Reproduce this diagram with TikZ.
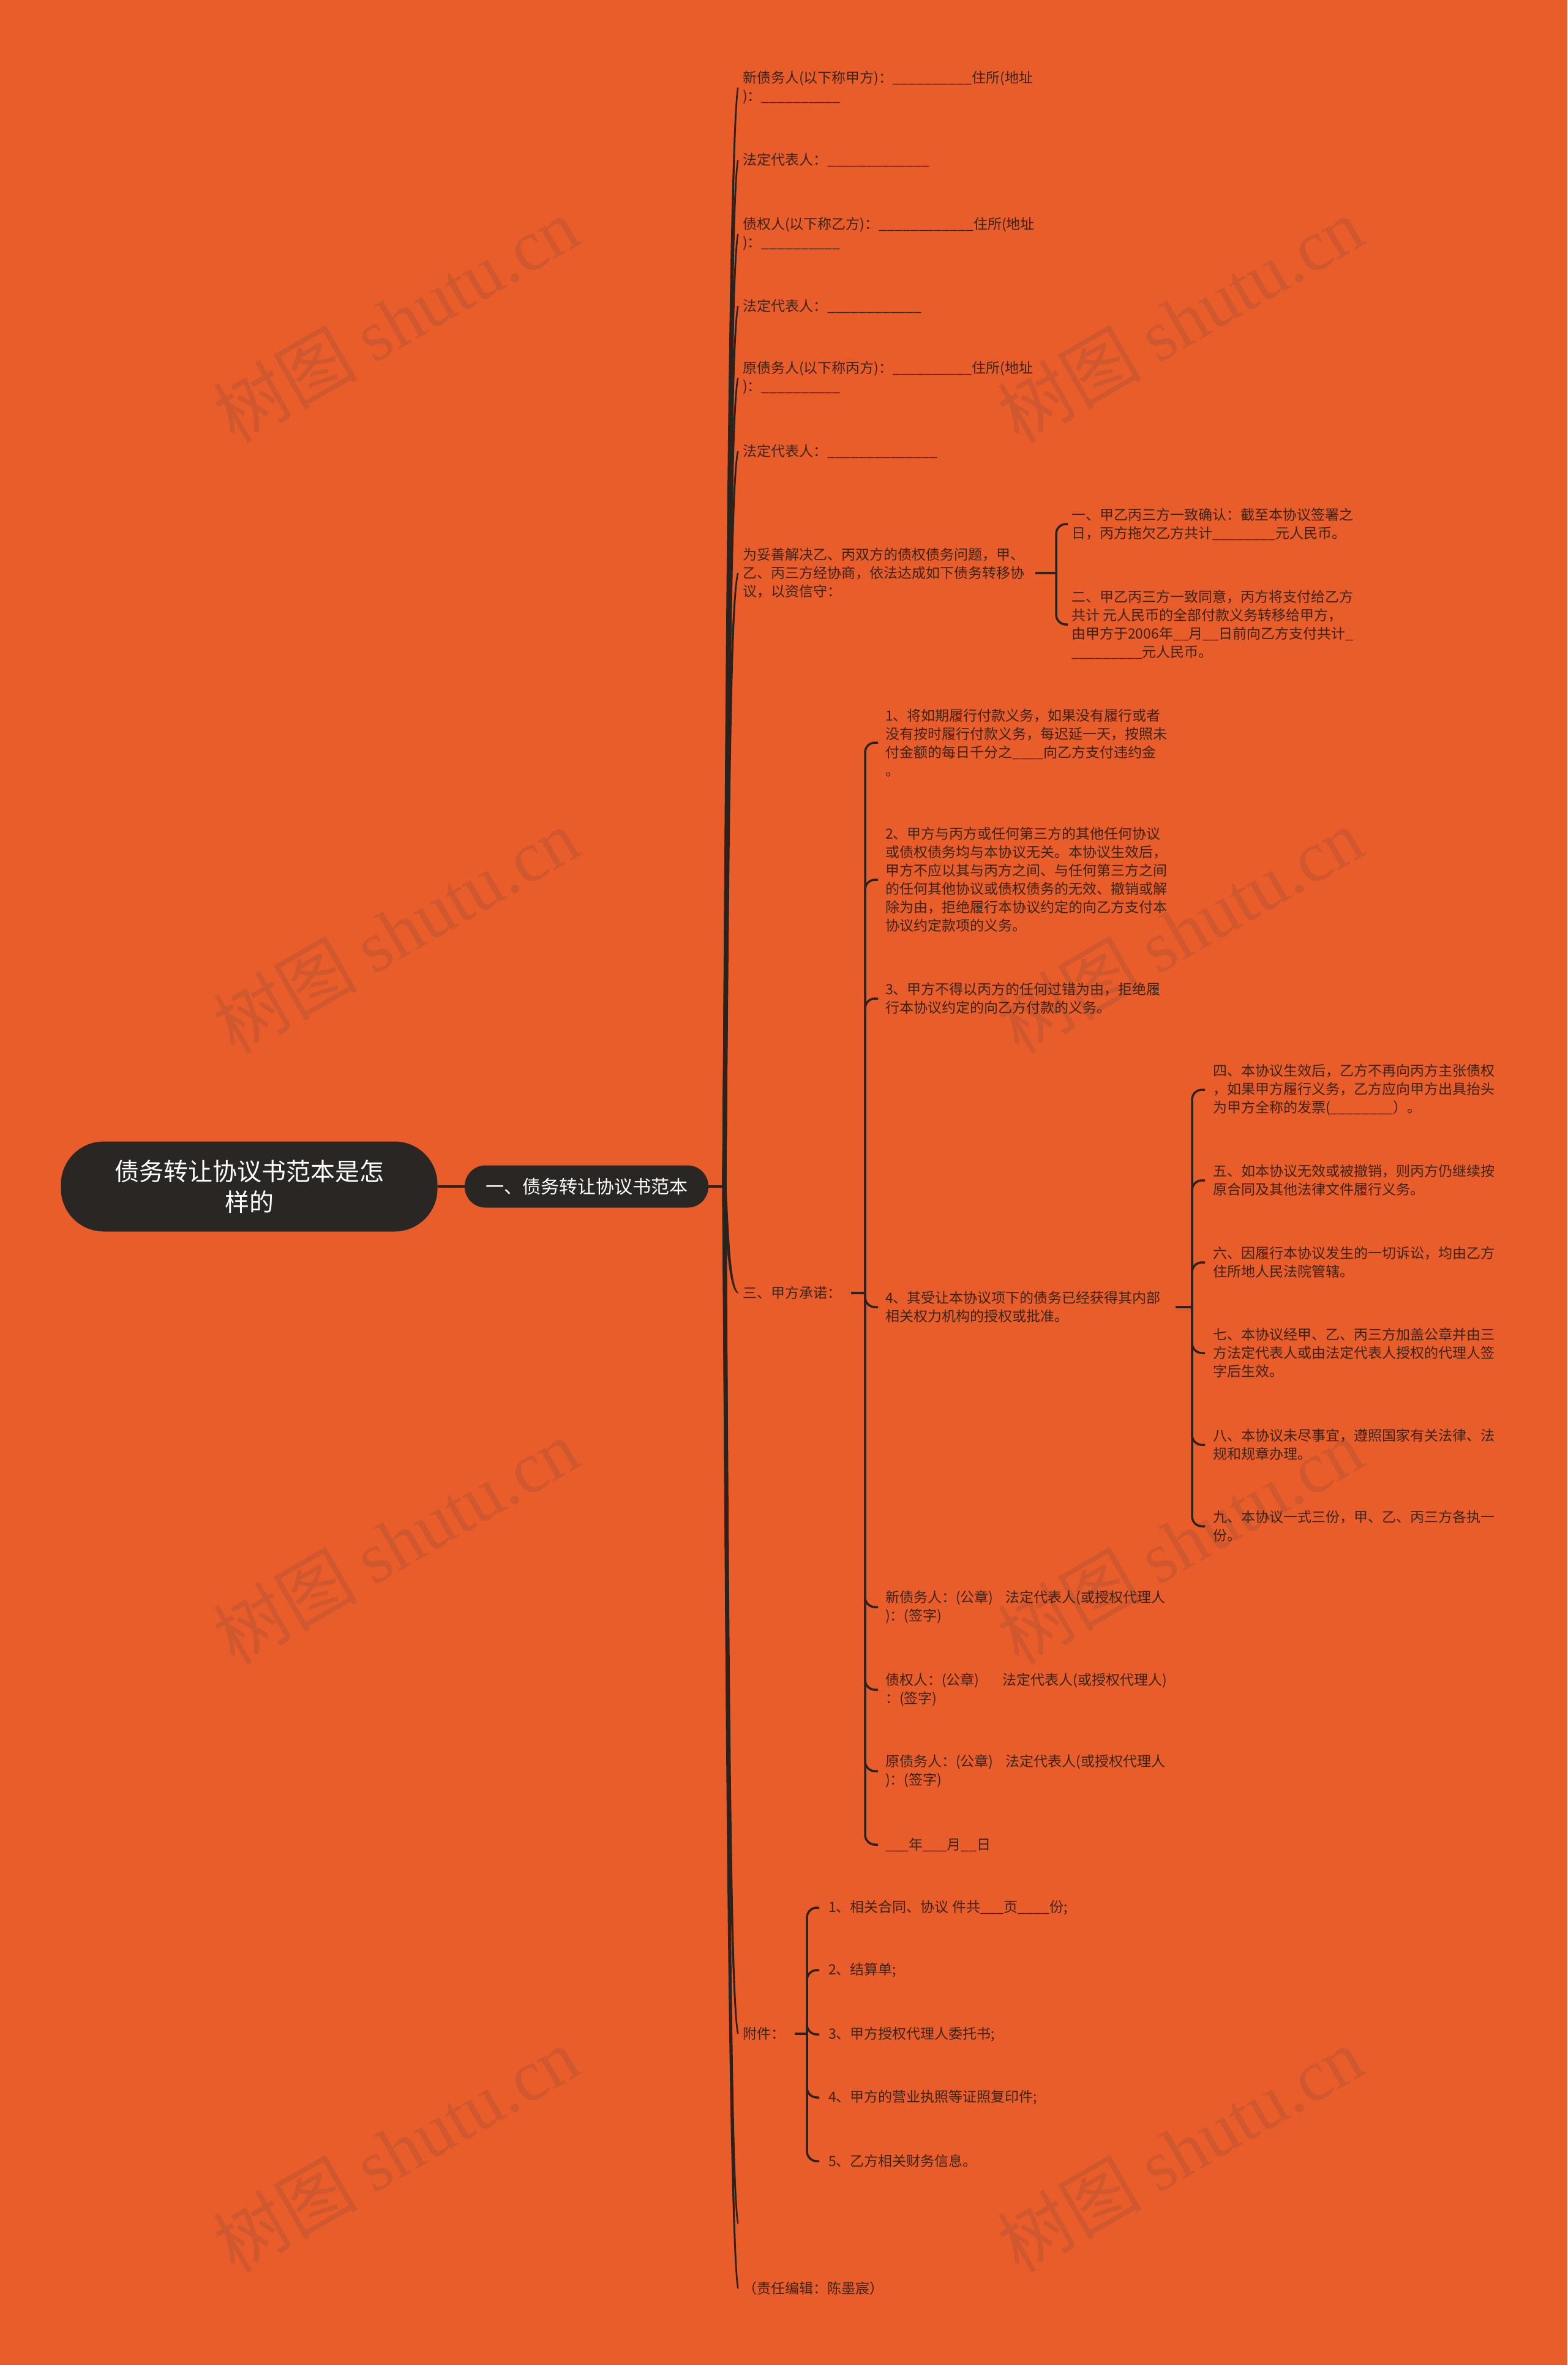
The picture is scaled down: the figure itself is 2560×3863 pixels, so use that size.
\documentclass[tikz,border=0pt]{standalone}
\usepackage{fontspec}
\setmainfont{Noto Sans CJK SC}
\newfontfamily\wmserif{Liberation Serif}
\definecolor{bg}{RGB}{233,93,42}
\definecolor{ink}{RGB}{58,36,24}
\definecolor{linec}{RGB}{43,34,30}
\definecolor{rootc}{RGB}{42,38,36}
\definecolor{wm}{RGB}{208,88,46}
\tikzset{
  txt/.style={anchor=west, inner sep=0pt, align=left, text=ink, font=\fontsize{23}{30}\selectfont},
  trunk/.style={draw=linec, line width=3pt},
  brk/.style={draw=linec, line width=3.5pt, rounded corners=16pt},
  wmark/.style={text=wm, rotate=30, inner sep=0pt, font=\fontsize{118}{130}\selectfont},
  rootbox/.style={fill=rootc, rounded corners=70pt, minimum width=615pt, minimum height=147pt, text=white, align=center, inner sep=0pt, font=\fontsize{40}{50}\selectfont},
  lonebox/.style={fill=rootc, rounded corners=34pt, minimum width=398pt, minimum height=69pt, text=white, align=center, inner sep=0pt, font=\fontsize{30}{36}\selectfont}
}
% tapered curved connector from the hub to a child (#1 = anchor, #2 = its y)
\newcommand\taperto[2]{%
  \fill[linec] (1179.5,1938) .. controls (1185.5,{(1938+#2)/2}) and (1190,{#2+0.05*(1938-#2)}) .. ([xshift=-9pt]#1)
    -- ([xshift=-6.5pt]#1) .. controls (1193.5,{#2+0.05*(1938-#2)}) and (1191,{(1938+#2)/2}) .. (1186.5,1938) -- cycle;}
\begin{document}
\begin{tikzpicture}[x=1pt,y=-1pt]
\useasboundingbox (0,0) rectangle (2560,3863);
\fill[bg] (0,0) rectangle (2560,3863);
% watermarks
\node[wmark] (wm1) at (646,522) {树图 {\wmserif shutu.cn}};
\node[wmark] (wm2) at (1927,522) {树图 {\wmserif shutu.cn}};
\node[wmark] (wm3) at (646,1520) {树图 {\wmserif shutu.cn}};
\node[wmark] (wm4) at (1927,1520) {树图 {\wmserif shutu.cn}};
\node[wmark] (wm5) at (646,2518) {树图 {\wmserif shutu.cn}};
\node[wmark] (wm6) at (1927,2518) {树图 {\wmserif shutu.cn}};
\node[wmark] (wm7) at (646,3511) {树图 {\wmserif shutu.cn}};
\node[wmark] (wm8) at (1927,3511) {树图 {\wmserif shutu.cn}};

% root and level 1
\node[rootbox] (root) at (407,1938) {债务转让协议书范本是怎\\样的};
\node[lonebox] (l1) at (958,1938) {一、债务转让协议书范本};
\draw[trunk, line width=3.5pt] (root.east) -- (l1.west);
\coordinate (hub) at (1183,1938);
\draw[trunk, line width=3.5pt] (l1.east) -- (hub);

% first-level children
\node[txt] (n1) at (1213,143) {新债务人(以下称甲方)：\_\_\_\_\_\_\_\_\_\_住所(地址\\)：\_\_\_\_\_\_\_\_\_\_};
\node[txt] (n2) at (1213,261) {法定代表人：\_\_\_\_\_\_\_\_\_\_\_\_\_};
\node[txt] (n3) at (1213,382) {债权人(以下称乙方)：\_\_\_\_\_\_\_\_\_\_\_\_住所(地址\\)：\_\_\_\_\_\_\_\_\_\_};
\node[txt] (n4) at (1213,500) {法定代表人：\_\_\_\_\_\_\_\_\_\_\_\_};
\node[txt] (n5) at (1213,617) {原债务人(以下称丙方)：\_\_\_\_\_\_\_\_\_\_住所(地址\\)：\_\_\_\_\_\_\_\_\_\_};
\node[txt] (n6) at (1213,737) {法定代表人：\_\_\_\_\_\_\_\_\_\_\_\_\_\_};
\node[txt] (n7) at (1213,936) {为妥善解决乙、丙双方的债权债务问题，甲、\\乙、丙三方经协商，依法达成如下债务转移协\\议，以资信守：};
\node[txt] (n8) at (1213,2112) {三、甲方承诺：};
\node[txt] (n9) at (1213,3322) {附件：};
\coordinate (n10) at (1213,3632);
\node[txt] (n11) at (1213,3738) {（责任编辑：陈墨宸）};

\taperto{n1.west}{143}
\taperto{n2.west}{261}
\taperto{n3.west}{382}
\taperto{n4.west}{500}
\taperto{n5.west}{617}
\taperto{n6.west}{737}
\taperto{n7.west}{936}
\taperto{n8.west}{2112}
\taperto{n9.west}{3322}
\taperto{n10}{3632}
\taperto{n11.west}{3738}

% children of n7
\node[txt] (n7a) at (1750,856) {一、甲乙丙三方一致确认：截至本协议签署之\\日，丙方拖欠乙方共计\_\_\_\_\_\_\_\_元人民币。};
\node[txt] (n7b) at (1750,1020) {二、甲乙丙三方一致同意，丙方将支付给乙方\\共计 元人民币的全部付款义务转移给甲方，\\由甲方于2006年\_\_月\_\_日前向乙方支付共计\_\\\_\_\_\_\_\_\_\_\_元人民币。};
\coordinate (b7) at (1725,936);
\draw[brk] ([xshift=18pt]n7.east) -- (b7);
\draw[brk] (b7) |- ([xshift=-6pt]n7a.west);
\draw[brk] (b7) |- ([xshift=-6pt]n7b.west);

% children of n8
\node[txt] (n81) at (1446,1213) {1、将如期履行付款义务，如果没有履行或者\\没有按时履行付款义务，每迟延一天，按照未\\付金额的每日千分之\_\_\_\_向乙方支付违约金\\。};
\node[txt] (n82) at (1446,1437) {2、甲方与丙方或任何第三方的其他任何协议\\或债权债务均与本协议无关。本协议生效后，\\甲方不应以其与丙方之间、与任何第三方之间\\的任何其他协议或债权债务的无效、撤销或解\\除为由，拒绝履行本协议约定的向乙方支付本\\协议约定款项的义务。};
\node[txt] (n83) at (1446,1631) {3、甲方不得以丙方的任何过错为由，拒绝履\\行本协议约定的向乙方付款的义务。};
\node[txt] (n84) at (1446,2135) {4、其受让本协议项下的债务已经获得其内部\\相关权力机构的授权或批准。};
\node[txt] (n85) at (1446,2625) {新债务人：(公章)\hspace{20pt}法定代表人(或授权代理人\\)：(签字)};
\node[txt] (n86) at (1446,2760) {债权人：(公章)\hspace{38pt}法定代表人(或授权代理人)\\：(签字)};
\node[txt] (n87) at (1446,2893) {原债务人：(公章)\hspace{20pt}法定代表人(或授权代理人\\)：(签字)};
\node[txt] (n88) at (1446,3013) {\_\_\_年\_\_\_月\_\_日};
\coordinate (b8) at (1413,2112);
\draw[brk] ([xshift=16pt]n8.east) -- (b8);
\foreach \c in {n81,n82,n83,n84,n85,n86,n87,n88}
  \draw[brk] (b8) |- ([xshift=-12pt]\c.west);

% children of n84
\node[txt] (n84a) at (1981,1780) {四、本协议生效后，乙方不再向丙方主张债权\\，如果甲方履行义务，乙方应向甲方出具抬头\\为甲方全称的发票(\_\_\_\_\_\_\_\_）。};
\node[txt] (n84b) at (1981,1928) {五、如本协议无效或被撤销，则丙方仍继续按\\原合同及其他法律文件履行义务。};
\node[txt] (n84c) at (1981,2062) {六、因履行本协议发生的一切诉讼，均由乙方\\住所地人民法院管辖。};
\node[txt] (n84d) at (1981,2210) {七、本协议经甲、乙、丙三方加盖公章并由三\\方法定代表人或由法定代表人授权的代理人签\\字后生效。};
\node[txt] (n84e) at (1981,2360) {八、本协议未尽事宜，遵照国家有关法律、法\\规和规章办理。};
\node[txt] (n84f) at (1981,2493) {九、本协议一式三份，甲、乙、丙三方各执一\\份。};
\coordinate (b84) at (1947,2135);
\draw[brk] ([xshift=24pt]n84.east) -- (b84);
\foreach \c in {n84a,n84b,n84c,n84d,n84e,n84f}
  \draw[brk] (b84) |- ([xshift=-13pt]\c.west);

% children of n9
\node[txt] (n91) at (1353,3116) {1、相关合同、协议 件共\_\_\_页\_\_\_\_份;};
\node[txt] (n92) at (1353,3218) {2、结算单;};
\node[txt] (n93) at (1353,3323) {3、甲方授权代理人委托书;};
\node[txt] (n94) at (1353,3426) {4、甲方的营业执照等证照复印件;};
\node[txt] (n95) at (1353,3530) {5、乙方相关财务信息。};
\coordinate (b9) at (1318,3322);
\draw[brk] ([xshift=16pt]n9.east) -- (b9);
\foreach \c in {n91,n92,n93,n94,n95}
  \draw[brk] (b9) |- ([xshift=-15pt]\c.west);
\end{tikzpicture}
\end{document}
